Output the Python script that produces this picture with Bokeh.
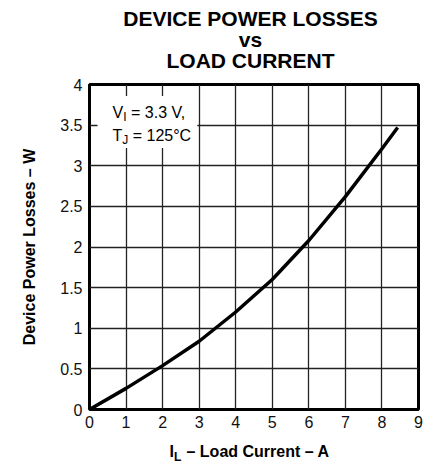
from bokeh.plotting import figure
from bokeh.layouts import column
from bokeh.models import FixedTicker, BoxAnnotation, Label, Range1d
from bokeh.core.properties import value
from bokeh.embed import file_html
from bokeh.resources import INLINE

# ---- data ----
current_a = [0, 1, 2, 3, 4, 5, 6, 7, 8, 8.43]
power_w = [0, 0.26, 0.54, 0.84, 1.20, 1.60, 2.08, 2.62, 3.21, 3.47]

x_ticks = [0, 1, 2, 3, 4, 5, 6, 7, 8, 9]
y_ticks = [0, 0.5, 1, 1.5, 2, 2.5, 3, 3.5, 4]
y_tick_labels = ["0", "0.5", "1", "1.5", "2", "2.5", "3", "3.5", "4"]
title_lines = ["DEVICE POWER LOSSES", "vs", "LOAD CURRENT"]

FONT = "Liberation Sans"


def strip(height):
    """A bare figure used only to hold text; its frame is aligned with the chart's."""
    s = figure(width=437, height=height, x_range=Range1d(89, 418),
               y_range=Range1d(0, height), output_backend="svg",
               toolbar_location=None, title=None, min_border=0,
               min_border_left=0, min_border_right=0,
               min_border_top=0, min_border_bottom=0)
    s.axis.visible = False
    s.grid.visible = False
    s.outline_line_color = None
    s.background_fill_color = "white"
    s.border_fill_color = "white"
    return s


# ---- title strip ----
pt = strip(72)
pt.text(x=[250, 250, 250], y=[54, 33, 12], text=title_lines,
        text_font=value(FONT), text_font_size="21px", text_font_style="bold",
        text_color="black", text_baseline="alphabetic", text_align="center")

# ---- main chart ----
p = figure(width=437, height=368, x_range=(0, 9), y_range=(0, 4),
           output_backend="svg", toolbar_location=None, title=None,
           min_border_left=89, min_border_right=19,
           min_border_top=12, min_border_bottom=31)

p.outline_line_color = "black"
p.outline_line_width = 3
p.background_fill_color = "white"
p.border_fill_color = "white"

for ax in (p.xaxis, p.yaxis):
    ax.axis_line_color = None
    ax.major_tick_line_color = None
    ax.minor_tick_line_color = None
    ax.major_tick_out = 0
    ax.major_tick_in = 0
    ax.minor_tick_out = 0
    ax.major_label_text_font = FONT
    ax.major_label_text_font_size = "16px"
    ax.major_label_text_color = "#111111"

p.xaxis.ticker = FixedTicker(ticks=x_ticks)
p.yaxis.ticker = FixedTicker(ticks=y_ticks)
p.yaxis.major_label_overrides = {t: s for t, s in zip(y_ticks, y_tick_labels)}
p.xaxis.major_label_standoff = 6
p.yaxis.major_label_standoff = 7

p.yaxis.axis_label = "Device Power Losses \u2013 W"
p.yaxis.axis_label_text_font = FONT
p.yaxis.axis_label_text_font_size = "16px"
p.yaxis.axis_label_text_font_style = "bold"
p.yaxis.axis_label_text_color = "black"
p.yaxis.axis_label_standoff = 19

p.xgrid.ticker = FixedTicker(ticks=x_ticks)
p.ygrid.ticker = FixedTicker(ticks=y_ticks)
for g in (p.xgrid, p.ygrid):
    g.grid_line_color = "#222222"
    g.grid_line_width = 1.3
    g.grid_line_alpha = 1.0

p.line(current_a, power_w, line_color="black", line_width=3.5)

# white box behind the conditions note
p.add_layout(BoxAnnotation(left=0.22, right=2.95, bottom=3.22, top=3.86,
                           fill_color="white", fill_alpha=1.0, line_color=None))


def lab(x, y, text, dx, dy, size):
    p.add_layout(Label(x=x, y=y, x_offset=dx, y_offset=dy, text=text,
                       text_font=FONT, text_font_size=size,
                       text_color="black", text_baseline="alphabetic",
                       text_align="left"))


# conditions note
lab(0.629, 3.594, "V", 0, 5, "16px")
lab(0.629, 3.594, "I", 10.7, 0, "12px")
lab(0.629, 3.594, "= 3.3 V,", 18.5, 5, "16px")
lab(0.629, 3.311, "T", 0, 5, "16px")
lab(0.629, 3.311, "J", 9.8, 0, "12px")
lab(0.629, 3.311, "= 125\u00b0C", 20.2, 5, "16px")

# ---- x axis title strip (with subscript) ----
p2 = strip(24)
xl_text = ["I", "L", "\u2013 Load Current \u2013 A"]
xl_x = [169, 173.5, 186]
xl_y = [13, 8, 13]
xl_size = ["16px", "12px", "16px"]
p2.text(x=xl_x, y=xl_y, text=xl_text, text_font=value(FONT),
        text_font_size=xl_size, text_font_style="bold", text_color="black",
        text_baseline="alphabetic", text_align="left")

layout = column(pt, p, p2, spacing=0)
open("out.html", "w").write(file_html(layout, INLINE))
